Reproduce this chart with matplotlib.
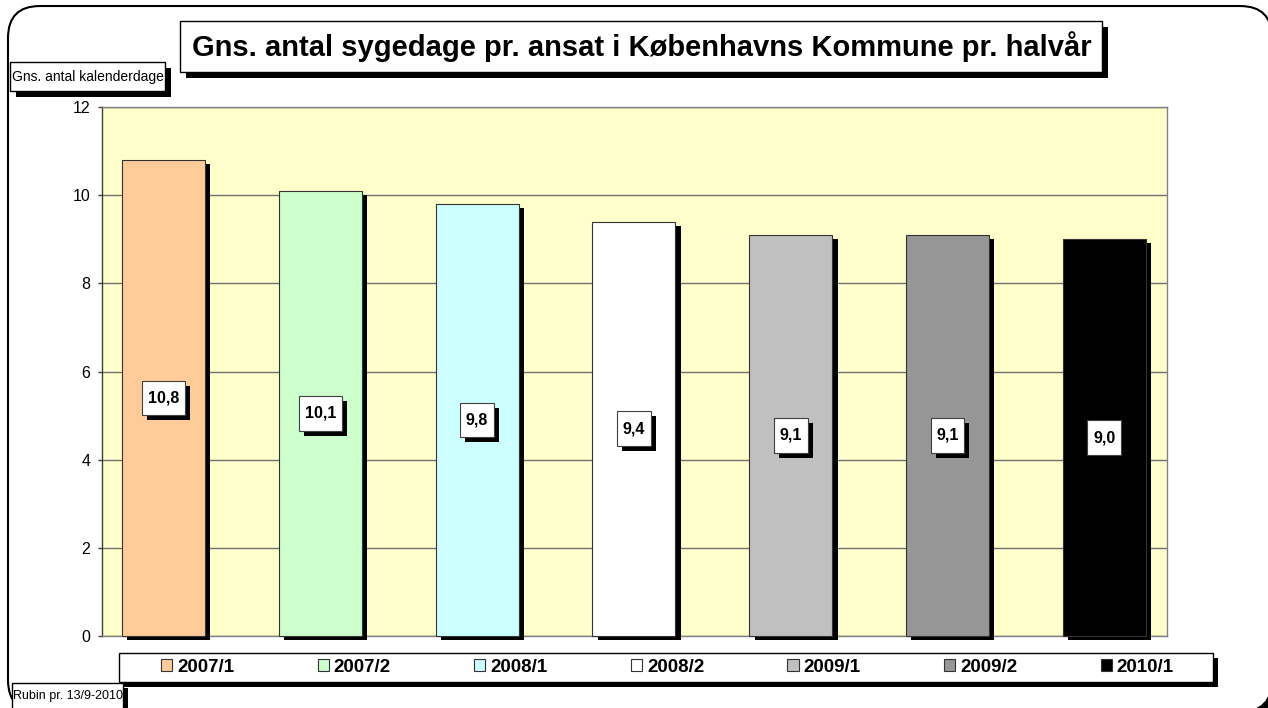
import matplotlib
matplotlib.use('Agg')
import matplotlib.pyplot as plt
from matplotlib.patches import Rectangle, FancyBboxPatch, Patch
from matplotlib.path import Path
import matplotlib.patheffects as pe

# ---------------- data ----------------
categories = ['2007/1', '2007/2', '2008/1', '2008/2', '2009/1', '2009/2', '2010/1']
values = [10.8, 10.1, 9.8, 9.4, 9.1, 9.1, 9.0]
colors = ['#FFCC99', '#CCFFCC', '#CCFFFF', '#FFFFFF', '#C0C0C0', '#969696', '#000000']
yticks = [0, 2, 4, 6, 8, 10, 12]
title = 'Gns. antal sygedage pr. ansat i Københavns Kommune pr. halvår'
ylabel = 'Gns. antal kalenderdage'
footer = 'Rubin pr. 13/9-2010'

plt.rcParams['font.family'] = ['Liberation Sans', 'DejaVu Sans']

W, H, DPI = 1268, 708, 100
fig = plt.figure(figsize=(W / DPI, H / DPI), dpi=DPI)
fig.patch.set_facecolor('white')


def px_rect(x0, y0, x1, y1):
    """pixel box (top-left origin) -> inches (x, y, w, h)"""
    return x0 / DPI, (H - y1) / DPI, (x1 - x0) / DPI, (y1 - y0) / DPI


def inch_pt(x, y):
    return x / DPI, (H - y) / DPI


def shadow_box(x0, y0, x1, y1, off=5, lw=1.0, z=5):
    x, y, w, h = px_rect(x0, y0, x1, y1)
    o = off / DPI
    fig.add_artist(Rectangle((x + o, y - o), w, h, transform=fig.dpi_scale_trans,
                             facecolor='black', edgecolor='none', zorder=z))
    fig.add_artist(Rectangle((x, y), w, h, transform=fig.dpi_scale_trans,
                             facecolor='white', edgecolor='black', lw=lw, zorder=z + 0.1))


# ---------------- outer rounded border ----------------
bx, by, bw, bh = px_rect(8, 6, 1272, 712)
fig.add_artist(FancyBboxPatch((bx + 0.04, by - 0.04), bw, bh,
                              boxstyle='round,pad=0,rounding_size=0.32',
                              transform=fig.dpi_scale_trans, facecolor='black',
                              edgecolor='none', zorder=-2))
fig.add_artist(FancyBboxPatch((bx, by), bw, bh,
                              boxstyle='round,pad=0,rounding_size=0.32',
                              transform=fig.dpi_scale_trans, facecolor='white',
                              edgecolor='black', lw=1.5, zorder=-1))

# ---------------- axes ----------------
ax = fig.add_axes([102 / W, (H - 636) / H, (1167 - 102) / W, (636 - 107) / H])
ax.set_facecolor('#FFFFCC')
x = list(range(len(categories)))
bars = ax.bar(x, values, width=0.53, color=colors, edgecolor='#333333',
              linewidth=0.8, zorder=3)
for b in bars:
    b.set_clip_on(False)
    b.set_path_effects([pe.SimplePatchShadow(offset=(3.9, -2.9), shadow_rgbFace='black',
                                             alpha=1.0), pe.Normal()])

ax.set_xlim(-0.392, 6.40)
ax.set_ylim(0, 12)
ax.set_yticks(yticks)
ax.set_xticks([])
ax.set_axisbelow(True)
ax.yaxis.grid(True, color='#707070', linewidth=1)
ax.tick_params(axis='y', length=2.9, width=1, color='#404040', pad=5.5,
               labelsize=11.5, labelcolor='black')
ax.spines['left'].set_color('#404040')
for s in ['right', 'top', 'bottom']:
    ax.spines[s].set_color('#808080')
for s in ax.spines.values():
    s.set_linewidth(1)


def tallbox(x0, y0, width, height, mutation_size):
    px_ = 0.36 * mutation_size
    py_ = 0.62 * mutation_size
    a, b = x0 - px_, y0 - py_
    c, d = x0 + width + px_, y0 + height + py_
    return Path([(a, b), (c, b), (c, d), (a, d), (a, b)],
                [Path.MOVETO, Path.LINETO, Path.LINETO, Path.LINETO, Path.CLOSEPOLY])


for xi, v in zip(x, values):
    t = ax.text(xi, v / 2, f'{v:.1f}'.replace('.', ','), ha='center', va='center',
                fontsize=11.5, fontweight='bold', zorder=6,
                bbox=dict(boxstyle=tallbox, facecolor='white', edgecolor='#404040', lw=0.8))
    t.get_bbox_patch().set_path_effects([
        pe.SimplePatchShadow(offset=(3.6, -3.6), shadow_rgbFace='black', alpha=1.0),
        pe.Normal()])

# ---------------- title ----------------
shadow_box(180, 21, 1102, 72, off=6)
tx, ty = inch_pt(642, 47)
fig.text(tx, ty, title, transform=fig.dpi_scale_trans, ha='center', va='center',
         fontsize=21, fontweight='bold', zorder=7)

# ---------------- y label box ----------------
shadow_box(10, 62, 165, 91, off=6)
tx, ty = inch_pt(87.5, 77)
fig.text(tx, ty, ylabel, transform=fig.dpi_scale_trans, ha='center', va='center',
         fontsize=10, zorder=7)

# ---------------- legend ----------------
shadow_box(119, 653, 1213, 682, off=5)
handles = [Patch(facecolor=c, edgecolor='#333333', lw=0.8) for c in colors]
lx, ly, lw_, lh = px_rect(161, 653, 1174, 682)
leg = fig.legend(handles, categories, ncol=len(categories), mode='expand', loc='center',
                 bbox_to_anchor=(lx, ly, lw_, lh), bbox_transform=fig.dpi_scale_trans,
                 frameon=False, prop={'weight': 'bold', 'size': 13.5},
                 handlelength=0.6, handleheight=0.6, handletextpad=0.27,
                 borderpad=0, borderaxespad=0, columnspacing=1)
leg.set_zorder(8)

# ---------------- footer ----------------
shadow_box(12, 683, 123, 716, off=5)
tx, ty = inch_pt(13, 696)
fig.text(tx, ty, footer, transform=fig.dpi_scale_trans, ha='left', va='center',
         fontsize=9, zorder=7)

fig.savefig('out.png', dpi=DPI)
